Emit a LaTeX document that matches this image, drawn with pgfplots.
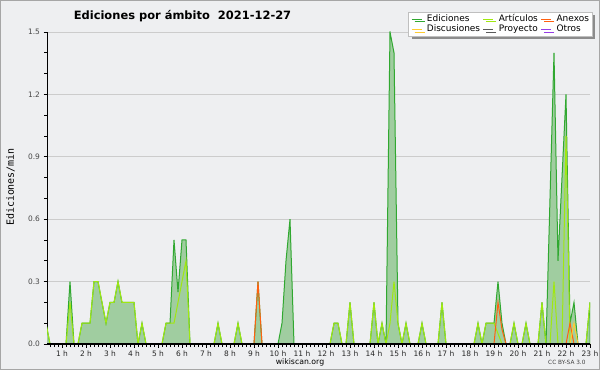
\documentclass[border=0pt]{standalone}
\usepackage{fontspec}
\setmainfont{DejaVu Sans}
\newfontfamily\monofont{DejaVu Sans Mono}
\usepackage{pgfplots}
\usepackage{pgfplotstable}
\pgfplotsset{compat=1.18}
\usetikzlibrary{shadows}

\definecolor{bg}{RGB}{238,239,241}
\definecolor{edline}{RGB}{48,168,48}
\definecolor{edfill}{RGB}{160,205,160}
\definecolor{artline}{RGB}{160,232,16}
\definecolor{anxline}{RGB}{255,96,16}
\definecolor{disline}{RGB}{255,204,48}
\definecolor{proline}{RGB}{90,90,90}
\definecolor{otrline}{RGB}{150,60,230}
\definecolor{gridc}{RGB}{204,204,204}
\definecolor{lab}{RGB}{70,70,70}

% k = 10-minute bin (hour = k/6)
\pgfplotstableread{
k ed art anx dis pro otr
2 0.1 0.1 0 0 0 0
3 0 0 0 0 0 0
7 0 0 0 0 0 0
8 0.3 0.2 0 0 0 0
9 0 0 0 0 0 0
10 0 0 0 0 0 0
11 0.1 0.1 0 0 0 0
12 0.1 0.1 0 0 0 0
13 0.1 0.1 0 0 0 0
14 0.3 0.3 0 0 0 0
15 0.3 0.3 0 0 0 0
16 0.2 0.2 0 0 0 0
17 0.1 0.1 0 0 0 0
18 0.2 0.2 0 0 0 0
19 0.2 0.2 0 0 0 0
20 0.3 0.3 0 0 0 0
21 0.2 0.2 0 0 0 0
22 0.2 0.2 0 0 0 0
23 0.2 0.2 0 0 0 0
24 0.2 0.2 0 0 0 0
25 0 0 0 0 0 0
26 0.1 0.1 0 0 0 0
27 0 0 0 0 0 0
31 0 0 0 0 0 0
32 0.1 0.1 0 0 0 0
33 0.1 0.1 0 0 0 0
34 0.5 0.1 0 0 0 0
35 0.25 0.2 0 0 0 0
36 0.5 0.3 0 0 0 0
37 0.5 0.4 0 0 0 0
38 0 0 0 0 0 0
44 0 0 0 0 0 0
45 0.1 0.1 0 0 0 0
46 0 0 0 0 0 0
49 0 0 0 0 0 0
50 0.1 0.1 0 0 0 0
51 0 0 0 0 0 0
54 0 0 0 0 0 0
55 0.3 0 0.3 0 0 0
56 0 0 0 0 0 0
60 0 0 0 0 0 0
61 0.1 0 0 0 0 0
62 0.4 0 0 0 0 0
63 0.6 0 0 0 0 0
64 0 0 0 0 0 0
73 0 0 0 0 0 0
74 0.1 0.1 0 0 0 0
75 0.1 0.1 0 0 0 0
76 0 0 0 0 0 0
77 0 0 0 0 0 0
78 0.2 0.2 0 0 0 0
79 0 0 0 0 0 0
83 0 0 0 0 0 0
84 0.2 0.2 0 0 0 0
85 0 0 0 0 0 0
86 0.1 0.1 0 0 0 0
87 0 0 0 0 0 0
88 1.5 0.1 0 0 0 0
89 1.4 0.3 0 0 0 0
90 0.1 0.1 0 0 0 0
91 0 0 0 0 0 0
92 0.1 0.1 0 0 0 0
93 0 0 0 0 0 0
95 0 0 0 0 0 0
96 0.1 0.1 0 0 0 0
97 0 0 0 0 0 0
100 0 0 0 0 0 0
101 0.2 0.2 0 0 0 0
102 0 0 0 0 0 0
109 0 0 0 0 0 0
110 0.1 0.1 0 0 0 0
111 0 0 0 0 0 0
112 0.1 0.1 0 0 0 0
113 0.1 0.1 0 0 0 0
114 0.1 0.1 0 0 0 0
115 0.3 0.05 0.2 0 0 0
116 0.1 0 0.07 0 0 0
117 0 0 0 0 0 0
118 0 0 0 0 0 0
119 0.1 0.1 0 0 0 0
120 0 0 0 0 0 0
121 0 0 0 0 0 0
122 0.1 0.1 0 0 0 0
123 0 0 0 0 0 0
125 0 0 0 0 0 0
126 0.2 0.2 0 0 0 0
127 0 0 0 0 0 0
128 0.7 0 0 0 0 0
129 1.4 0.3 0 0 0 0
130 0.4 0 0 0 0 0
131 0.8 0 0 0 0 0
132 1.2 1.0 0 0 0 0
133 0.1 0 0.1 0 0 0
134 0.2 0 0 0.1 0 0
135 0 0 0 0 0 0
137 0 0 0 0 0 0
138 0.2 0.2 0 0 0 0
}\datatable

\begin{document}
\begin{tikzpicture}
\path[use as bounding box] (-47bp,-26bp) rectangle (553bp,344bp);
\fill[bg] (-47bp,-26bp) rectangle (553bp,344bp);
\draw[gray!70, line width=1.2bp] (-46.4bp,-25.4bp) rectangle (552.4bp,343.4bp);
\begin{axis}[
  at={(0,0)}, anchor=south west,
  width=543bp, height=312bp, scale only axis,
  xmin=2.25, xmax=138, ymin=0, ymax=1.5,
  axis x line*=bottom, axis y line*=left,
  axis line style={black, line width=1bp},
  xtick={6,12,...,138},
  xticklabels={1 h,2 h,3 h,4 h,5 h,6 h,7 h,8 h,9 h,10 h,11 h,12 h,13 h,14 h,15 h,16 h,17 h,18 h,19 h,20 h,21 h,22 h,23 h},
  minor xtick={3,4,...,138},
  ytick={0,0.3,0.6,0.9,1.2,1.5},
  minor ytick={0.1,0.2,0.4,0.5,0.7,0.8,1.0,1.1,1.3,1.4},
  tick align=outside, major tick length=3.5bp, minor tick length=3bp,
  every tick/.style={black, line width=0.8bp},
  ymajorgrids, grid style={gridc, line width=0.8bp},
  /pgf/number format/assume math mode=true,
  yticklabel style={font=\fontsize{7.5}{8}\selectfont, text=lab,
    /pgf/number format/.cd, fixed, fixed zerofill, precision=1},
  xticklabel style={font=\fontsize{7.5}{8}\selectfont, text=black!85},
  legend columns=3,
  legend cell align=left,
  legend style={at={(1.004,1.064)}, anchor=north east, fill=white, draw=gray!50,
    line width=0.6bp, font=\fontsize{9}{9}\selectfont,
    inner xsep=2.5bp, inner ysep=1.5bp, row sep=0bp,
    nodes={inner sep=0.4bp, text height=7bp, text depth=2.5bp},
    /tikz/every odd column/.append style={column sep=4.5bp},
    /tikz/every even column/.append style={column sep=2.5bp},
    drop shadow={shadow xshift=3bp, shadow yshift=-3bp, fill=black!45, opacity=1}},
  legend image code/.code={\draw[#1, fill=none, line width=0.9bp] (0bp,0bp) -- (10bp,0bp);},
]
\addplot[draw=edline, line width=1bp, fill=edfill] table[x=k, y=ed] {\datatable} \closedcycle;
\addlegendentry{Ediciones}
\addplot[draw=artline, line width=1bp] table[x=k, y=art] {\datatable};
\addlegendentry{Artículos}
\addplot[draw=anxline, line width=1bp] table[x=k, y=anx] {\datatable};
\addlegendentry{Anexos}
\addplot[draw=disline, line width=1bp] table[x=k, y=dis] {\datatable};
\addlegendentry{Discusiones}
\addplot[draw=proline, line width=1bp] table[x=k, y=pro] {\datatable};
\addlegendentry{Proyecto}
\addplot[draw=otrline, line width=1bp] table[x=k, y=otr] {\datatable};
\addlegendentry{Otros}
\draw[black, line width=1.2bp] (rel axis cs:0,0) -- (rel axis cs:1,0);
\end{axis}
\node[font=\bfseries\fontsize{11.5}{12}\selectfont, anchor=base] at (135.5bp,324.5bp) {Ediciones por ámbito\ \ 2021-12-27};
\node[font=\monofont\fontsize{10}{10}\selectfont, rotate=90] at (-36.5bp,157bp) {Ediciones/min};
\node[font=\fontsize{7.8}{8}\selectfont, anchor=base] at (253bp,-20bp) {wikiscan.org};
\node[font=\fontsize{5.8}{6}\selectfont, anchor=base east, text=black!75] at (542bp,-20.3bp) {CC BY-SA 3.0};
\end{tikzpicture}
\end{document}
